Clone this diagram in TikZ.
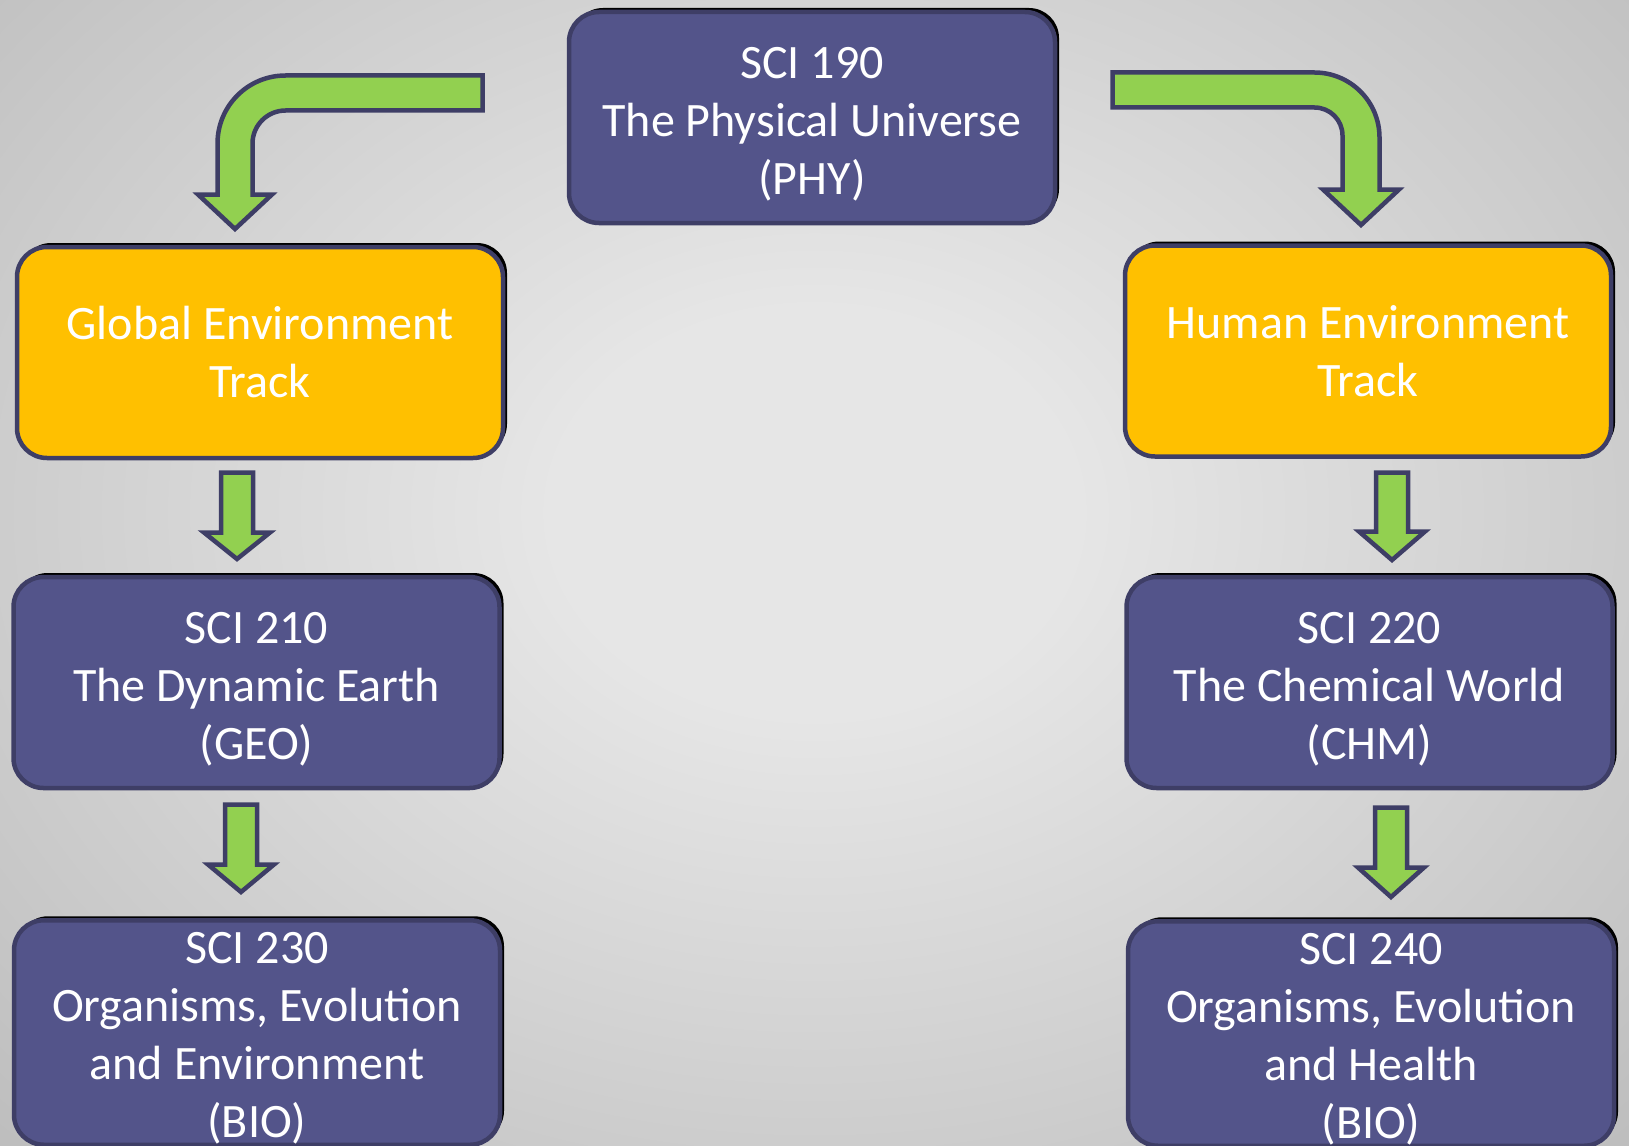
\documentclass[tikz,border=0pt]{standalone}
\usepackage{fontspec}
\setmainfont{Carlito}
\usetikzlibrary{shadows}

\definecolor{boxpurple}{HTML}{53548A}
\definecolor{boxline}{HTML}{3E3E66}
\definecolor{trackyellow}{HTML}{FFC000}
\definecolor{arrowgreen}{HTML}{92D050}
\definecolor{bgcenter}{HTML}{E6E6E6}
\definecolor{bgedge}{HTML}{A8A8A8}
\definecolor{bgcorner}{HTML}{999999}

\pgfdeclareradialshading{bgglow}{\pgfpoint{0bp}{0bp}}{color(0bp)=(bgcenter); color(8bp)=(bgcenter); color(50bp)=(bgedge); color(71bp)=(bgcorner)}

% invisible strut that pushes the text block down
\newcommand\lineup[1][45pt]{\rule{0pt}{#1}}
% last line without depth
\newcommand\nodepth[1]{\raisebox{0pt}[\height][0pt]{#1}}

% straight block arrow: x, top, head base, tip
\newcommand\downblock[4]{%
  \draw[greenarrow] (#1-16,#2) -- (#1+16,#2) -- (#1+16,#3) -- (#1+33,#3)
    -- (#1,#4) -- (#1-33,#3) -- (#1-16,#3) -- cycle;}

\begin{document}
\begin{tikzpicture}[x=1pt,y=-1pt,
    course/.style={rounded corners=30pt, draw=boxline, line width=4.5pt,
      fill=boxpurple, text=white, align=center, inner sep=0pt,
      minimum width=486pt, minimum height=211pt,
      font=\fontsize{48}{58}\selectfont,
      drop shadow={shadow xshift=4pt, shadow yshift=4pt, fill=black, opacity=1}},
    track/.style={course, fill=trackyellow},
    longcourse/.style={course, minimum height=224.5pt},
    greenarrow/.style={draw=boxline, line width=4.5pt, fill=arrowgreen, line join=miter}]
  \useasboundingbox (0,0) rectangle (1629,1145);
  \clip (0,0) rectangle (1629,1145);
  \shade[shading=bgglow] (0,-120) rectangle (1629,1145);

  % boxes
  \node[course] (phy) at (812,117.5) {\lineup SCI 190\\The Physical Universe\\(PHY)};
  \node[track] (glob) at (260,352.5) {Global Environment\\Track};
  \node[track] (hum) at (1368,351) {Human Environment\\Track};
  \node[course] (geo) at (256.5,682.5) {\lineup SCI 210\\The Dynamic Earth\\(GEO)};
  \node[course] (chm) at (1369.5,682.5) {\lineup SCI 220\\The Chemical World\\(CHM)};
  \node[longcourse] (bioa) at (257,1032.5)
    {\lineup[35.6pt]SCI 230\\Organisms, Evolution\\and Environment\\\nodepth{(BIO)}};
  \node[longcourse] (biob) at (1371,1033.5)
    {\lineup[35.6pt]SCI 240\\Organisms, Evolution\\and Health\\\nodepth{(BIO)}};

  % bent arrows from the top box
  \draw[greenarrow] (482.5,75.5) -- (285.5,75.5)
    .. controls (247.9,75.5) and (217.5,105.9) .. (217.5,143.5)
    -- (217.5,194.5) -- (198,194.5) -- (235,229) -- (272,194.5) -- (252.5,194.5)
    -- (252.5,143.5) .. controls (252.5,125.3) and (267.3,110.5) .. (285.5,110.5)
    -- (482.5,110.5) -- cycle;
  \draw[greenarrow] (1112.5,72.5) -- (1314.5,72.5)
    .. controls (1350.4,72.5) and (1379.5,101.6) .. (1379.5,137.5)
    -- (1379.5,189.5) -- (1399,189.5) -- (1361,225) -- (1323,189.5) -- (1342.5,189.5)
    -- (1342.5,135.5) .. controls (1342.5,120) and (1330,107.5) .. (1314.5,107.5)
    -- (1112.5,107.5) -- cycle;

  % straight arrows
  \downblock{237}{472.5}{532.5}{559}
  \downblock{241}{804.5}{864.5}{892}
  \downblock{1392}{472.5}{531.5}{560}
  \downblock{1391}{807.5}{867.5}{897}
\end{tikzpicture}
\end{document}
